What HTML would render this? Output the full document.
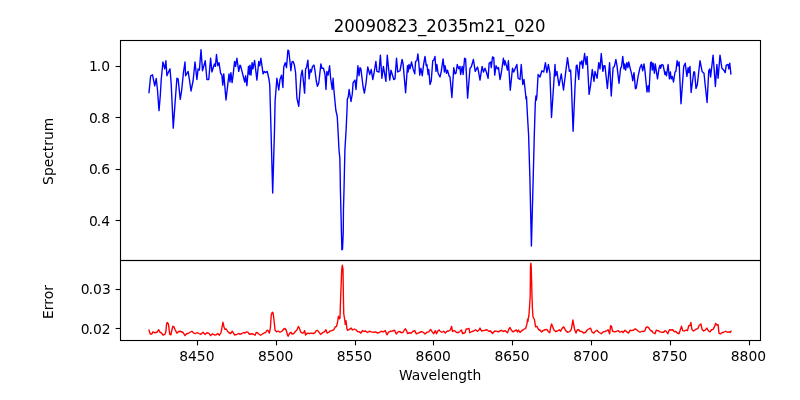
<!DOCTYPE html>
<html><head><meta charset="utf-8"><title>20090823_2035m21_020</title>
<style>html,body{margin:0;padding:0;background:#fff;overflow:hidden;}svg{display:block;}</style>
</head><body>
<svg width="800" height="400" viewBox="0 0 800 400" font-family="'DejaVu Sans', 'Liberation Sans', sans-serif" font-size="13.889" fill="#000">
<rect x="0" y="0" width="800" height="400" fill="#ffffff"/>
<clipPath id="c1"><rect x="120.5" y="40.5" width="640" height="220"/></clipPath>
<clipPath id="c2"><rect x="120.5" y="260.5" width="640" height="80"/></clipPath>
<polyline clip-path="url(#c1)" fill="none" stroke="#0000ff" stroke-width="1.389" stroke-linejoin="round" stroke-linecap="square" points="149.00,92.60 150.60,76.00 152.50,74.80 154.75,85.75 156.25,78.50 157.50,90.00 159.00,110.60 160.25,96.30 161.20,80.00 162.90,62.00 164.75,68.90 165.90,60.75 166.90,75.75 168.50,72.00 170.00,68.90 171.25,85.00 173.25,128.10 175.20,101.00 176.90,78.25 178.10,78.90 180.25,99.40 181.70,90.00 183.50,72.00 185.00,62.00 185.60,75.75 188.10,71.40 189.50,80.00 191.00,91.00 193.10,80.75 195.00,62.00 196.90,79.50 198.10,68.90 199.40,70.10 201.00,49.75 202.50,70.75 205.25,60.75 206.90,79.50 208.75,79.50 210.60,58.25 211.90,72.00 214.40,63.90 215.40,66.40 216.50,54.50 217.75,65.75 219.00,62.60 220.60,73.25 221.90,75.10 222.75,85.10 223.75,73.90 226.00,100.00 229.00,73.90 230.00,82.00 230.90,72.60 232.10,82.60 233.10,75.10 234.60,61.40 235.60,66.40 236.90,58.25 238.75,71.40 240.00,65.10 240.60,65.80 241.90,70.80 243.75,78.25 244.75,82.00 245.60,75.75 246.90,85.75 248.50,66.40 249.40,74.50 250.00,65.10 251.00,75.10 252.10,62.60 252.90,68.90 254.60,60.50 256.90,80.10 258.75,61.40 259.75,65.75 260.90,58.25 263.10,73.90 264.40,71.40 265.60,72.60 267.25,71.40 269.00,79.50 269.75,85.00 271.00,130.00 272.70,193.00 274.50,130.00 275.10,101.00 276.90,78.25 278.75,90.00 280.00,79.50 281.60,75.10 282.90,87.50 283.75,67.00 285.25,62.60 286.50,67.60 287.90,50.10 288.75,50.75 290.00,62.00 290.90,70.75 291.90,62.00 293.10,61.40 294.40,65.10 295.60,72.60 296.90,98.00 298.75,106.25 301.00,75.75 302.25,70.10 304.60,93.10 305.60,68.90 306.50,67.60 307.90,60.10 309.10,78.90 310.25,69.50 311.25,72.00 312.50,66.40 314.00,65.10 315.00,70.75 316.25,80.75 317.40,86.25 318.75,83.25 320.90,63.90 321.90,68.25 323.50,68.25 325.00,74.50 326.00,89.40 326.90,71.40 328.10,75.10 329.60,65.75 330.60,78.25 332.25,89.40 333.10,78.25 333.90,90.00 335.80,110.00 337.25,116.50 338.00,130.00 339.00,150.00 339.80,157.50 340.20,175.00 340.40,190.00 340.90,210.00 341.50,235.00 341.90,249.70 342.50,249.30 343.25,232.00 343.45,210.00 344.00,190.00 344.45,170.00 344.90,150.00 346.10,130.00 347.10,108.00 347.30,99.50 348.30,96.50 349.10,89.50 351.00,101.50 352.30,94.00 353.10,82.60 355.00,80.10 356.00,89.50 357.90,65.75 359.00,75.75 360.00,67.60 360.90,68.90 363.10,87.00 364.40,93.10 366.00,83.25 367.75,67.00 369.75,74.50 371.25,69.50 372.75,79.50 374.00,73.25 375.90,61.40 376.90,71.40 379.00,72.00 380.40,55.10 381.90,78.25 383.40,66.40 385.90,81.40 387.25,55.10 389.75,80.10 391.00,70.10 393.75,79.50 395.00,78.90 396.50,58.25 397.75,72.00 400.00,70.75 402.10,59.50 403.10,63.90 405.60,92.75 407.50,65.75 408.10,72.00 409.00,64.50 410.00,68.90 411.50,62.00 413.10,68.90 414.75,73.90 415.60,61.40 416.90,60.75 417.90,53.90 418.75,62.00 419.75,75.10 420.90,68.25 422.25,75.75 423.50,65.10 425.00,56.40 426.25,65.75 426.90,64.50 428.10,74.50 428.75,69.50 430.00,84.50 431.25,80.75 432.75,60.75 433.75,60.10 435.00,56.40 436.00,71.40 436.90,64.50 438.10,73.25 440.00,77.00 441.25,71.40 443.10,58.90 444.40,72.00 445.00,65.75 446.50,73.25 447.50,70.10 449.00,75.75 450.00,77.00 451.90,97.50 453.75,67.60 455.00,73.90 456.00,73.25 457.25,64.50 458.75,68.90 460.00,66.40 460.60,74.50 462.25,66.40 463.10,74.50 464.60,58.25 465.60,58.90 467.60,98.10 470.00,68.25 471.25,67.00 473.40,59.50 475.25,71.40 477.50,67.00 478.50,71.40 480.00,80.10 482.10,66.40 483.50,72.00 485.00,68.25 486.50,72.60 488.10,78.25 489.10,63.25 490.60,62.00 491.25,67.60 492.50,57.00 493.75,57.60 494.75,75.10 496.00,65.75 497.50,68.90 498.50,67.60 500.00,79.50 501.25,73.25 503.40,58.25 504.40,65.10 505.00,60.75 506.25,65.10 507.50,70.10 508.40,60.75 510.25,90.25 512.50,68.25 513.75,72.00 515.00,68.90 516.90,64.50 518.10,78.25 520.00,79.50 521.25,64.50 522.75,84.50 524.00,79.50 525.90,97.00 526.00,99.00 526.45,96.60 526.60,99.00 527.50,116.25 528.60,135.00 529.90,178.00 531.40,246.00 533.20,178.00 534.30,135.00 535.30,103.00 535.90,96.00 536.40,100.00 536.90,96.00 538.10,74.50 540.00,77.00 541.90,70.75 543.75,72.00 545.40,62.60 546.90,72.60 548.40,64.50 549.90,73.25 551.50,117.50 553.60,86.00 555.00,64.50 555.60,75.75 556.90,71.40 559.00,85.60 561.25,73.90 563.50,90.00 567.50,57.60 569.40,71.40 570.60,70.10 571.40,85.00 573.10,131.25 575.10,85.00 576.25,65.75 577.10,65.10 578.75,79.50 580.00,62.00 581.25,63.90 581.90,60.75 582.75,68.25 584.60,53.50 586.00,64.50 587.10,56.40 589.10,94.40 590.60,85.10 592.25,69.50 594.00,81.40 595.00,71.40 597.10,78.25 598.75,62.60 600.00,68.90 601.25,53.50 602.90,71.40 604.00,65.75 605.00,65.75 607.40,88.50 609.60,62.60 611.25,96.00 613.10,67.60 614.40,66.40 615.90,59.50 616.90,65.10 619.00,83.25 620.60,68.25 621.50,67.00 622.75,56.40 624.00,68.90 624.75,63.90 625.60,70.10 626.90,62.60 627.90,67.60 628.75,62.00 630.00,67.60 631.90,75.10 632.75,80.75 634.00,72.60 635.40,88.75 636.25,88.25 638.10,76.40 640.00,67.60 641.50,64.50 642.75,70.75 644.00,63.90 645.00,71.40 647.00,92.00 648.10,85.75 649.00,92.00 650.60,62.60 651.60,62.00 652.25,70.10 653.10,63.25 654.40,73.25 655.25,63.90 657.50,78.90 659.00,68.25 660.00,65.10 660.60,68.25 661.90,64.50 663.10,65.10 665.00,74.50 665.60,72.00 666.50,75.75 668.10,64.50 669.40,78.90 670.40,72.00 671.25,78.90 672.25,76.40 673.50,82.00 675.00,72.00 675.90,71.40 677.10,60.75 678.10,65.75 679.10,62.00 681.00,103.75 683.75,66.40 685.25,63.25 686.90,76.40 688.10,67.60 688.75,72.60 690.00,66.40 691.10,92.50 693.75,72.00 694.60,72.00 696.00,88.50 697.25,85.10 700.00,60.75 702.10,71.40 704.00,73.25 705.00,83.25 707.10,102.50 708.75,70.75 709.75,68.90 710.60,77.00 713.10,55.10 715.40,86.50 716.90,64.50 718.10,78.25 720.00,55.10 721.90,68.25 723.75,70.10 725.25,72.60 726.25,65.10 728.10,64.50 728.75,68.90 729.75,63.25 730.90,74.00"/>
<polyline clip-path="url(#c2)" fill="none" stroke="#ff0000" stroke-width="1.389" stroke-linejoin="round" stroke-linecap="square" points="149.00,330.25 150.25,334.00 151.90,334.00 152.75,331.90 155.00,332.75 156.90,332.25 158.75,329.75 160.00,332.25 161.25,332.75 163.10,335.00 165.00,334.40 165.90,331.25 166.60,323.75 167.50,322.50 168.50,324.40 169.75,334.40 170.90,334.75 171.90,330.00 172.90,326.25 174.00,326.90 175.25,330.00 176.90,333.10 178.75,331.50 180.25,331.25 183.10,332.50 185.00,335.60 186.50,333.75 188.10,333.50 190.00,332.25 191.90,331.25 193.75,333.10 195.60,333.50 197.25,332.50 198.75,333.50 200.60,334.40 203.10,332.25 205.00,334.40 206.90,332.75 208.75,333.10 210.60,335.60 212.50,333.75 214.40,335.00 216.25,334.75 217.75,333.50 219.40,335.25 221.00,332.50 221.90,328.10 222.90,322.25 224.00,326.90 225.00,329.40 226.25,329.00 227.50,331.25 229.00,332.75 230.60,333.50 232.25,331.25 233.50,333.10 234.75,335.00 236.90,334.40 238.75,333.50 240.00,334.40 241.90,333.50 243.75,332.50 245.00,333.10 246.25,331.90 248.10,332.25 249.40,334.40 251.25,333.75 253.10,334.00 255.00,335.25 256.25,332.50 257.50,332.75 258.75,334.00 260.60,335.25 262.50,334.00 264.40,332.75 265.60,332.50 266.90,330.25 268.10,330.60 269.40,333.10 270.40,327.50 271.25,315.00 272.25,312.25 273.10,313.10 274.00,320.00 275.00,330.00 276.50,331.90 278.10,331.00 280.00,332.25 281.90,331.25 283.75,329.00 285.00,328.50 286.25,330.25 287.50,335.00 288.10,336.25 289.75,333.10 291.00,332.25 291.90,334.00 293.75,333.50 295.60,331.25 296.90,330.00 298.40,326.50 299.40,328.10 300.60,331.90 302.50,333.10 303.75,332.75 304.60,330.60 305.60,335.00 307.50,333.10 309.40,333.50 311.25,333.10 313.10,333.50 315.00,332.75 316.25,330.60 317.50,330.40 318.75,331.90 320.60,334.40 322.50,332.75 324.40,331.90 325.90,329.75 327.10,333.10 328.75,332.25 330.00,331.00 331.90,330.60 333.75,329.75 335.25,326.90 336.50,326.50 337.50,322.50 338.40,316.25 339.40,318.75 340.00,318.00 340.55,300.00 341.75,269.00 342.35,265.30 343.00,269.00 343.45,300.00 343.75,313.75 344.75,320.00 345.25,324.40 346.00,320.60 346.90,328.75 347.50,330.25 349.40,329.40 351.25,328.10 352.50,330.00 354.40,329.00 356.25,330.00 357.50,331.50 359.40,331.90 361.00,333.10 362.50,330.60 364.00,331.50 365.60,331.00 367.50,332.50 369.40,331.25 371.25,331.90 373.75,332.25 375.60,331.90 377.50,333.10 379.40,332.50 381.25,331.25 383.10,331.90 385.25,330.60 386.90,334.75 388.75,331.90 390.60,331.25 392.50,331.00 394.60,330.25 396.25,334.00 398.10,331.90 400.00,331.50 401.25,332.75 403.10,332.25 404.40,330.00 405.40,328.75 406.50,330.60 407.50,333.50 409.40,332.75 411.25,333.10 413.10,331.25 414.75,330.60 416.25,333.75 418.10,333.10 420.00,332.25 421.90,331.50 423.75,332.75 425.00,334.00 426.90,332.25 428.75,331.90 430.60,329.40 432.25,331.90 433.75,333.75 435.25,330.60 436.50,333.75 438.10,330.60 439.40,330.00 440.00,331.25 441.90,332.25 443.75,331.25 445.25,333.10 446.90,331.25 448.75,331.00 450.25,330.00 451.60,326.50 452.50,331.25 454.40,330.60 456.25,332.25 458.10,332.75 460.00,331.25 461.50,330.00 462.50,333.50 465.00,332.75 466.25,329.00 467.75,328.75 469.00,328.50 469.75,332.75 471.90,331.50 473.75,331.00 475.60,329.75 477.50,331.25 479.00,330.00 480.00,328.10 481.50,331.00 483.10,330.60 485.00,330.25 486.90,329.75 488.75,331.25 490.60,331.00 492.50,333.50 494.40,331.25 496.25,331.00 498.10,331.90 500.00,331.00 501.50,330.25 503.10,331.50 505.00,330.60 507.50,332.75 508.75,329.40 510.00,327.50 511.25,330.00 513.10,331.90 515.00,330.60 516.25,330.00 517.50,331.90 518.50,330.00 520.00,332.50 521.90,330.60 523.75,329.40 525.60,328.50 526.90,324.40 527.60,319.20 527.95,321.30 528.30,318.60 528.90,315.50 529.60,306.00 530.20,296.00 530.50,266.00 530.90,263.20 531.25,268.00 532.00,296.00 532.40,308.00 533.00,317.00 534.40,319.40 535.60,326.90 536.90,326.25 538.10,328.75 539.40,330.25 540.00,330.00 541.50,331.90 543.10,330.60 545.00,329.75 546.90,329.40 548.10,331.25 549.75,332.75 550.60,327.50 551.60,324.00 552.75,326.90 554.00,330.00 555.60,331.50 557.50,331.00 559.40,329.75 560.60,331.25 562.25,328.10 563.75,326.90 565.00,329.40 566.50,331.50 568.10,332.25 570.00,331.25 571.25,329.40 572.10,325.00 572.90,320.00 573.75,325.00 574.75,330.00 576.00,333.10 577.25,330.00 578.75,329.75 580.00,331.25 581.90,331.50 583.75,333.10 585.60,332.25 587.25,330.00 588.75,329.00 590.60,328.10 591.90,331.90 593.75,333.10 595.60,331.00 596.90,330.25 598.75,332.25 601.25,333.75 603.10,331.90 605.00,331.50 606.90,330.60 608.10,329.75 609.60,333.75 610.60,325.60 611.50,326.25 612.50,331.00 614.40,331.90 616.25,331.50 618.10,330.60 620.00,332.25 621.90,331.25 623.10,332.50 625.00,330.25 626.90,331.90 628.50,333.10 630.00,330.25 631.90,330.60 633.75,330.00 635.25,328.75 636.90,330.00 638.75,331.50 640.00,332.25 641.90,331.25 643.75,331.50 645.00,330.60 646.00,327.50 647.50,326.90 649.00,328.10 650.25,330.25 651.90,331.00 653.10,332.75 655.00,333.75 656.25,330.25 658.10,330.60 660.00,331.90 661.90,332.25 663.75,332.25 665.00,330.60 666.25,331.25 667.75,333.75 669.40,329.75 671.25,330.00 672.75,329.75 674.40,331.90 675.60,331.25 676.90,332.75 679.00,333.75 680.25,330.00 681.50,326.25 682.75,330.60 684.40,331.00 686.25,330.00 687.50,330.60 688.75,325.60 690.00,325.60 690.90,322.50 691.90,329.40 693.50,331.00 695.00,330.00 696.25,329.00 697.75,328.75 699.40,325.00 700.90,324.00 702.10,329.40 703.75,331.00 705.25,330.00 706.90,328.10 708.50,331.00 710.00,331.90 711.50,329.75 713.10,329.40 714.40,326.90 715.60,323.50 716.90,325.00 718.10,324.75 719.00,333.10 720.25,334.00 721.90,332.75 723.75,332.25 725.60,331.25 727.50,332.25 729.40,331.90 730.25,332.50 731.00,331.25"/>
<g stroke="#000" stroke-width="1.111" fill="none">
<line x1="197.5" y1="340.5" x2="197.5" y2="345.361"/>
<line x1="276.5" y1="340.5" x2="276.5" y2="345.361"/>
<line x1="355.5" y1="340.5" x2="355.5" y2="345.361"/>
<line x1="433.5" y1="340.5" x2="433.5" y2="345.361"/>
<line x1="512.5" y1="340.5" x2="512.5" y2="345.361"/>
<line x1="591.5" y1="340.5" x2="591.5" y2="345.361"/>
<line x1="670.5" y1="340.5" x2="670.5" y2="345.361"/>
<line x1="749.5" y1="340.5" x2="749.5" y2="345.361"/>
<line x1="120.5" y1="66.5" x2="115.639" y2="66.5"/>
<line x1="120.5" y1="117.5" x2="115.639" y2="117.5"/>
<line x1="120.5" y1="169.5" x2="115.639" y2="169.5"/>
<line x1="120.5" y1="220.5" x2="115.639" y2="220.5"/>
<line x1="120.5" y1="289.5" x2="115.639" y2="289.5"/>
<line x1="120.5" y1="328.5" x2="115.639" y2="328.5"/>
<rect x="120.5" y="40.5" width="640" height="220" stroke-linejoin="miter"/>
<rect x="120.5" y="260.5" width="640" height="80" stroke-linejoin="miter"/>
</g>
<text x="196.85" y="361.0" text-anchor="middle">8450</text>
<text x="275.65" y="361.0" text-anchor="middle">8500</text>
<text x="354.45" y="361.0" text-anchor="middle">8550</text>
<text x="433.25" y="361.0" text-anchor="middle">8600</text>
<text x="512.05" y="361.0" text-anchor="middle">8650</text>
<text x="590.85" y="361.0" text-anchor="middle">8700</text>
<text x="669.65" y="361.0" text-anchor="middle">8750</text>
<text x="748.45" y="361.0" text-anchor="middle">8800</text>
<text x="110.00" y="71.00" text-anchor="end">1<tspan dx="-1">.0</tspan></text>
<text x="110.00" y="123.00" text-anchor="end">0<tspan dx="-1">.8</tspan></text>
<text x="110.00" y="174.00" text-anchor="end">0<tspan dx="-1">.6</tspan></text>
<text x="110.00" y="226.00" text-anchor="end">0<tspan dx="-1">.4</tspan></text>
<text x="110.78" y="294.30" text-anchor="end">0<tspan dx="-1">.03</tspan></text>
<text x="110.70" y="334.00" text-anchor="end">0<tspan dx="-1">.02</tspan></text>
<text x="440.2" y="379.77" text-anchor="middle">Wavelength</text>
<text x="439.7" y="32.0" text-anchor="middle" font-size="17.3" textLength="211.8" lengthAdjust="spacingAndGlyphs">20090823_2035m21_020</text>
<text transform="translate(52.9,151.3) rotate(-90)" text-anchor="middle">Spectrum</text>
<text transform="translate(52.8,302.0) rotate(-90)" text-anchor="middle">Error</text>
</svg>
</body></html>
